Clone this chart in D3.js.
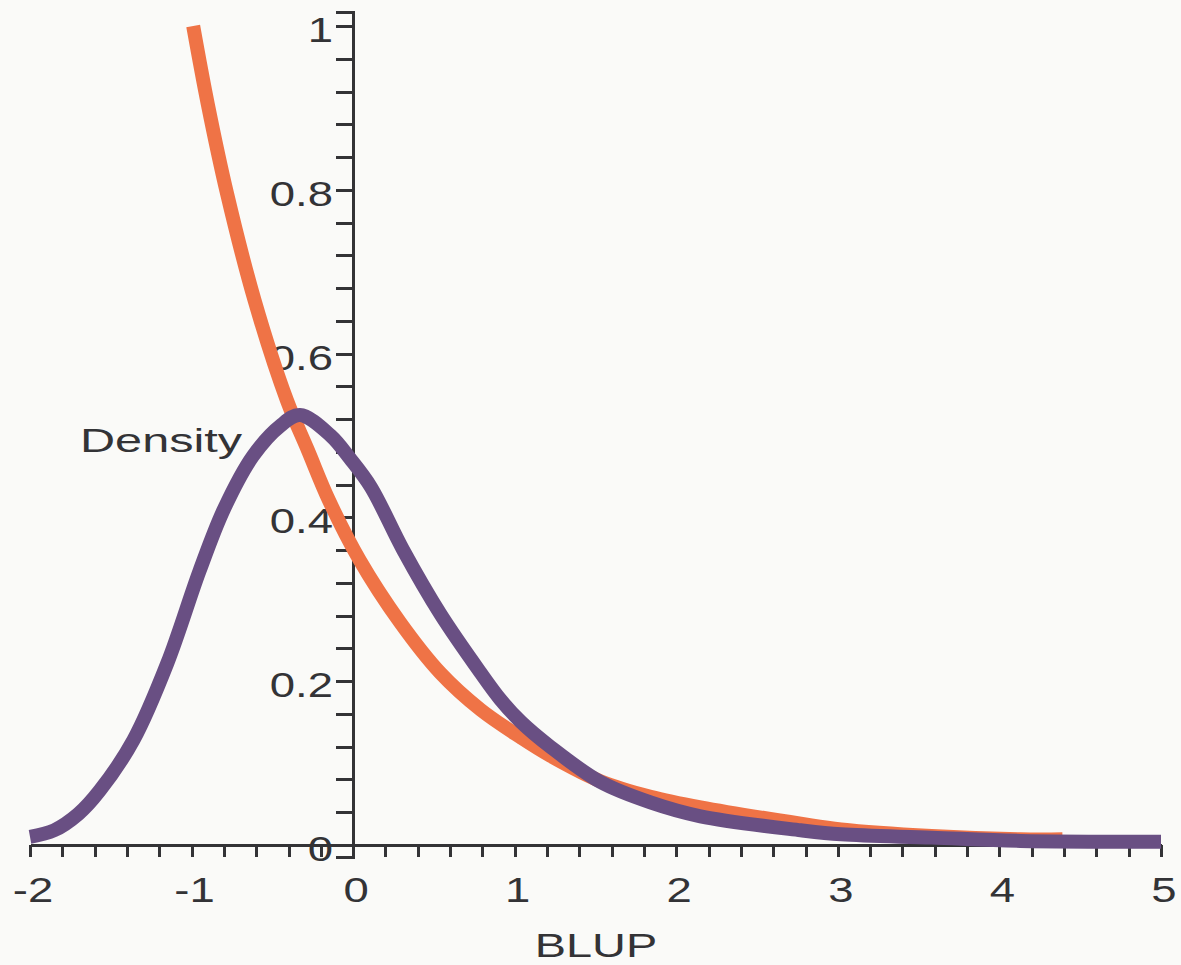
<!DOCTYPE html>
<meta charset="utf-8">
<script src="https://d3js.org/d3.v7.min.js"></script>
<style>
  body { margin: 0; background: #fafaf8; }
  text { font-family: "Liberation Sans", Arial, sans-serif; fill: #333336; }
</style>
<body>
<div id="chart"></div>
<script>
// values
var orangeX = [-0.99, -0.90, -0.78, -0.61, -0.41, -0.28, -0.15, 0.04, 0.29, 0.54, 0.79, 1.04, 1.22, 1.53, 1.84, 2.15, 2.77, 3.02, 3.58, 4.13, 4.39];
var orangeY = [1.0, 0.905, 0.795, 0.665, 0.543, 0.482, 0.421, 0.348, 0.272, 0.210, 0.165, 0.131, 0.109, 0.078, 0.059, 0.046, 0.026, 0.019, 0.011, 0.007, 0.007];

var purpleX = [-2.0, -1.85, -1.70, -1.57, -1.36, -1.15, -0.95, -0.80, -0.62, -0.45, -0.33, -0.14, -0.02, 0.11, 0.31, 0.54, 0.79, 0.91, 1.04, 1.22, 1.53, 1.84, 2.15, 2.77, 3.02, 3.58, 4.13, 5.0];
var purpleY = [0.010, 0.018, 0.038, 0.066, 0.128, 0.222, 0.335, 0.410, 0.475, 0.512, 0.525, 0.500, 0.472, 0.437, 0.360, 0.282, 0.210, 0.178, 0.150, 0.120, 0.077, 0.052, 0.035, 0.018, 0.013, 0.009, 0.005, 0.004];

var xTickLabels = [-2, -1, 0, 1, 2, 3, 4, 5];
var yTickLabels = [0, 0.2, 0.4, 0.6, 0.8, 1];

var width = 1181, height = 965;

var svg = d3.select("#chart").append("svg")
    .attr("width", width)
    .attr("height", height);

svg.append("rect").attr("width", width).attr("height", height).attr("fill", "#fafaf8");

var x = d3.scaleLinear().domain([-2, 5]).range([30, 1161]);
var y = d3.scaleLinear().domain([0, 1]).range([845, 26]);

// y axis runs a little past 0 and 1, with brackets at its ends
var yAxisScale = d3.scaleLinear().domain([-0.0146, 1.0171]).range([y(-0.0146), y(1.0171)]);

var axisColor = "#333336";

svg.append("g")
    .attr("transform", "translate(0," + y(0) + ")")
    .call(d3.axisBottom(x).tickValues(d3.range(-2, 5.001, 0.2)).tickSize(12).tickSizeOuter(0).tickFormat(""));

svg.append("g")
    .attr("transform", "translate(" + x(0) + ",0)")
    .call(d3.axisLeft(yAxisScale).tickValues(d3.range(0, 1.0001, 0.04)).tickSize(17).tickSizeOuter(17).tickFormat(""));

svg.selectAll(".domain, .tick line")
    .attr("stroke", axisColor)
    .attr("stroke-width", 3)
    .attr("fill", "none")
    .attr("shape-rendering", "crispEdges");

function stretch(sel, k) {
    sel.each(function() {
        var w = this.getComputedTextLength();
        d3.select(this).attr("textLength", w * k).attr("lengthAdjust", "spacingAndGlyphs");
    });
}

// tick labels
var xl = svg.append("g").selectAll("text")
    .data(xTickLabels)
    .enter().append("text")
    .attr("x", function(d) { return x(d) + 3; })
    .attr("y", 902)
    .attr("text-anchor", "middle")
    .attr("font-size", 35)
    .text(function(d) { return d; });
stretch(xl, 1.3);

var yl = svg.append("g").selectAll("text")
    .data(yTickLabels)
    .enter().append("text")
    .attr("x", 333)
    .attr("y", function(d) { return y(d) + 16; })
    .attr("text-anchor", "end")
    .attr("font-size", 35)
    .text(function(d) { return d; });
stretch(yl, 1.3);

var dl = svg.append("text")
    .attr("x", 80)
    .attr("y", 452)
    .attr("font-size", 34)
    .text("Density");
stretch(dl, 1.43);

var bl = svg.append("text")
    .attr("x", 596)
    .attr("y", 957)
    .attr("text-anchor", "middle")
    .attr("font-size", 33)
    .text("BLUP");
stretch(bl, 1.42);

// curves
var line = d3.line()
    .x(function(d) { return x(d[0]); })
    .y(function(d) { return y(d[1]); })
    .curve(d3.curveCatmullRom.alpha(0.5));

var orange = d3.zip(orangeX, orangeY);
var purple = d3.zip(purpleX, purpleY);

svg.append("path")
    .datum(orange)
    .attr("d", line)
    .attr("fill", "none")
    .attr("stroke", "#ef7346")
    .attr("stroke-width", 14)
    .attr("stroke-linejoin", "round");

svg.append("path")
    .datum(purple)
    .attr("d", line)
    .attr("fill", "none")
    .attr("stroke", "#694f83")
    .attr("stroke-width", 14)
    .attr("stroke-linejoin", "round");
</script>
</body>
